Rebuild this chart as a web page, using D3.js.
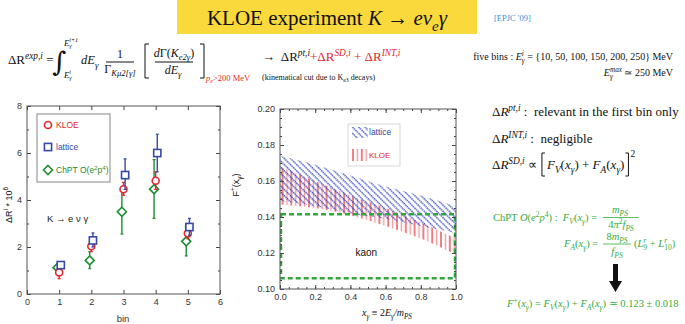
<!DOCTYPE html>
<html lang="en">
    <head>
        <meta charset="utf-8">
        <style type="text/css">
            body { margin: 0; background: #fff; }
            text { white-space: pre; }
            .tick text { font-family: "Liberation Sans", Arial, sans-serif; font-size: 9px; fill: #333; }
            .tick line { stroke: #444; }
        </style>
    </head>
    <body>
        <svg width="685" height="324"></svg>

        <script src="https://cdnjs.cloudflare.com/ajax/libs/d3/7.8.5/d3.min.js"></script>
        <script>
            // left panel: Delta R per bin (x 10^6)
            var bins = [1, 2, 3, 4, 5];
            var kloeVal = [0.92, 2.03, 4.46, 4.82, 2.58];
            var kloeLo = [0.65, 1.80, 4.20, 4.45, 2.35];
            var kloeHi = [1.10, 2.25, 4.75, 5.20, 2.80];
            var latVal = [1.23, 2.28, 5.06, 6.00, 2.85];
            var latLo = [1.15, 2.00, 4.45, 5.20, 2.50];
            var latHi = [1.30, 2.60, 5.75, 6.80, 3.22];
            var chptVal = [1.12, 1.43, 3.50, 4.46, 2.24];
            var chptLo = [1.05, 1.08, 2.55, 3.22, 1.62];
            var chptHi = [1.20, 1.80, 4.45, 5.72, 2.85];

            // middle panel: F+(x) bands
            var xg = [0.0, 0.2, 0.4, 0.6, 0.8, 1.0];
            var latUp = [0.174, 0.169, 0.163, 0.157, 0.152, 0.146];
            var latDn = [0.149, 0.146, 0.142, 0.139, 0.135, 0.131];
            var kloeUp = [0.168, 0.160, 0.152, 0.145, 0.137, 0.128];
            var kloeDn = [0.147, 0.145, 0.141, 0.135, 0.128, 0.119];
            var chptBox = [0.106, 0.1415];   // 0.123 +- 0.018

            var red = "#e4262d", blue = "#3648a6", green = "#1e8c32", lgreen = "#34ad3c";

            var svg = d3.select("svg");

            // small helper for text with italic / super / subscripts
            function rich(sel, x, y, parts, o) {
                o = o || {};
                var fs = o.size || 12;
                var t = sel.append("text").attr("x", x).attr("y", y)
                    .attr("font-family", o.font || "'Liberation Serif', 'Times New Roman', serif")
                    .attr("font-size", fs)
                    .attr("fill", o.fill || "#111")
                    .attr("text-anchor", o.anchor || "start");
                var cur = 0, prev = null, extra = 0;
                parts.forEach(function (p) {
                    if (typeof p === "string") p = {t: p};
                    var shift = 0, sc = 1;
                    if (p.sup) { shift = -0.42 * fs; sc = 0.72; }
                    if (p.sub) { shift = 0.28 * fs; sc = 0.72; }
                    var ts = t.append("tspan").text(p.t)
                        .attr("dy", shift - cur)
                        .attr("font-size", fs * sc);
                    cur = shift;
                    if (p.i) ts.attr("font-style", "italic");
                    if (p.fill) ts.attr("fill", p.fill);
                    if (extra) { ts.attr("dx", extra); extra = 0; }
                    if (p.back && prev) {
                        var w = prev.getComputedTextLength();
                        ts.attr("dx", -w);
                        var w2 = ts.node().getComputedTextLength();
                        if (w2 < w) extra = w - w2;
                    }
                    prev = ts.node();
                });
                return t;
            }

            // ---------- header ----------
            svg.append("rect").attr("x", 177).attr("y", 0).attr("width", 300).attr("height", 34)
                .attr("fill", "#f9d93b");
            rich(svg, 327, 25, ["KLOE experiment ", {t: "K", i: 1}, " \u2192 ", {t: "e\u03bd", i: 1},
                {t: "e", i: 1, sub: 1}, {t: "\u03b3", i: 1}], {size: 21, anchor: "middle"});
            rich(svg, 494, 21, ["[EPJC '09]"], {size: 8.5, fill: "#3a8fd8"});

            // formula line
            rich(svg, 8, 64, ["\u0394R", {t: "exp,i", i: 1, sup: 1}, " ="], {size: 13});
            svg.append("text").attr("x", 52).attr("y", 71).attr("font-family", "'DejaVu Serif', serif")
                .attr("font-size", 27).attr("fill", "#111").text("\u222b");
            rich(svg, 64, 46, [{t: "E", i: 1}, {t: "\u03b3", i: 1, sub: 1}, {t: "i+1", i: 1, sup: 1, back: 1}], {size: 8.5});
            rich(svg, 64, 78, [{t: "E", i: 1}, {t: "\u03b3", i: 1, sub: 1}, {t: "i", i: 1, sup: 1, back: 1}], {size: 8.5});
            rich(svg, 81, 64, [{t: "dE", i: 1}, {t: "\u03b3", i: 1, sub: 1}], {size: 12.5});
            rich(svg, 120, 58, ["1"], {size: 12, anchor: "middle"});
            svg.append("line").attr("x1", 106).attr("x2", 134).attr("y1", 62).attr("y2", 62).attr("stroke", "#111");
            rich(svg, 120, 73, ["\u0393", {t: "K\u03bc2[\u03b3]", i: 1, sub: 1}], {size: 12, anchor: "middle"});
            svg.append("path").attr("d", "M149,44H145V78H149M200,44H204V78H200")
                .attr("fill", "none").attr("stroke", "#111").attr("stroke-width", 1);
            rich(svg, 174, 57, [{t: "d", i: 1}, "\u0393(", {t: "K", i: 1}, {t: "e2\u03b3", i: 1, sub: 1}, ")"], {size: 12, anchor: "middle"});
            svg.append("line").attr("x1", 155).attr("x2", 193).attr("y1", 62).attr("y2", 62).attr("stroke", "#111");
            rich(svg, 173, 74, [{t: "dE", i: 1}, {t: "\u03b3", i: 1, sub: 1}], {size: 12, anchor: "middle"});
            rich(svg, 206, 81, [{t: "p", i: 1}, {t: "e", i: 1, sub: 1}, ">200 MeV"], {size: 8.5, fill: red});
            rich(svg, 262, 61, ["\u2192  \u0394R", {t: "pt,i", i: 1, sup: 1},
                {t: "+\u0394R", fill: red}, {t: "SD,i", i: 1, sup: 1, fill: red},
                {t: " + \u0394R", fill: red}, {t: "INT,i", i: 1, sup: 1, fill: red}], {size: 13});
            rich(svg, 262, 80, ["(kinematical cut due to K", {t: "e3", sub: 1}, " decays)"], {size: 8});
            rich(svg, 673, 60, ["five bins : ", {t: "E", i: 1}, {t: "\u03b3", i: 1, sub: 1}, {t: "i", i: 1, sup: 1, back: 1},
                " = {10, 50, 100, 150, 200, 250} MeV"], {size: 10, anchor: "end"});
            rich(svg, 673, 76, [{t: "E", i: 1}, {t: "\u03b3", i: 1, sub: 1}, {t: "max", i: 1, sup: 1, back: 1},
                " \u2243 250 MeV"], {size: 10, anchor: "end"});

            // ---------- left chart ----------
            var x1 = d3.scaleLinear().domain([0, 6]).range([27, 220]);
            var y1 = d3.scaleLinear().domain([0, 8]).range([294, 106]);
            var g1 = svg.append("g");

            function frameAxes(g, xs, ys, xMaj, xMin, yMaj, yMin, fmtX, fmtY) {
                var r = xs.range(), d = ys.range();
                g.append("g").attr("transform", "translate(0," + d[0] + ")")
                    .call(d3.axisBottom(xs).tickValues(xMaj).tickSize(-4).tickPadding(5).tickFormat(fmtX));
                g.append("g").attr("transform", "translate(0," + d[0] + ")")
                    .call(d3.axisBottom(xs).tickValues(xMin).tickSize(-2).tickFormat(""));
                g.append("g").attr("transform", "translate(0," + d[1] + ")")
                    .call(d3.axisTop(xs).tickValues(xMaj).tickSize(-4).tickFormat(""));
                g.append("g").attr("transform", "translate(0," + d[1] + ")")
                    .call(d3.axisTop(xs).tickValues(xMin).tickSize(-2).tickFormat(""));
                g.append("g").attr("transform", "translate(" + r[0] + ",0)")
                    .call(d3.axisLeft(ys).tickValues(yMaj).tickSize(-4).tickPadding(5).tickFormat(fmtY));
                g.append("g").attr("transform", "translate(" + r[0] + ",0)")
                    .call(d3.axisLeft(ys).tickValues(yMin).tickSize(-2).tickFormat(""));
                g.append("g").attr("transform", "translate(" + r[1] + ",0)")
                    .call(d3.axisRight(ys).tickValues(yMaj).tickSize(-4).tickFormat(""));
                g.append("g").attr("transform", "translate(" + r[1] + ",0)")
                    .call(d3.axisRight(ys).tickValues(yMin).tickSize(-2).tickFormat(""));
                g.selectAll(".domain").remove();
                g.append("rect").attr("x", r[0]).attr("y", d[1]).attr("width", r[1] - r[0]).attr("height", d[0] - d[1])
                    .attr("fill", "none").attr("stroke", "#555").attr("stroke-width", 1);
            }

            frameAxes(g1, x1, y1, d3.range(0, 7), [], [0, 2, 4, 6, 8], d3.range(0, 8.01, 1), d3.format("d"), d3.format("d"));

            rich(g1, 0, 0, ["\u0394R", {t: "i", sup: 1}, " * 10", {t: "6", sup: 1}],
                {size: 9, font: "'Liberation Sans', Arial, sans-serif", anchor: "middle"})
                .attr("transform", "translate(12,205) rotate(-90)");
            g1.append("text").attr("x", 123).attr("y", 322).attr("text-anchor", "middle")
                .attr("font-family", "'Liberation Sans', Arial, sans-serif").attr("font-size", 9.5)
                .attr("fill", "#333").text("bin");

            function marker(gs, px, py, col, shape) {
                var m;
                if (shape === "circle") m = gs.append("circle").attr("cx", px).attr("cy", py).attr("r", 3.5);
                else if (shape === "square") m = gs.append("rect").attr("x", px - 3.6).attr("y", py - 3.6).attr("width", 7.2).attr("height", 7.2);
                else m = gs.append("path").attr("d", "M" + px + "," + (py - 4.5) + "l4.5,4.5l-4.5,4.5l-4.5,-4.5z");
                m.attr("fill", "#fff").attr("stroke", col).attr("stroke-width", 1.6);
            }
            function series(vals, lo, hi, dx, col, shape) {
                var gs = g1.append("g");
                bins.forEach(function (b, i) {
                    var px = x1(b + dx);
                    gs.append("line").attr("x1", px).attr("x2", px)
                        .attr("y1", y1(lo[i])).attr("y2", y1(hi[i]))
                        .attr("stroke", col).attr("stroke-width", 1.4);
                    gs.append("line").attr("x1", px - 1.5).attr("x2", px + 1.5)
                        .attr("y1", y1(hi[i])).attr("y2", y1(hi[i])).attr("stroke", col).attr("stroke-width", 1.2);
                    gs.append("line").attr("x1", px - 1.5).attr("x2", px + 1.5)
                        .attr("y1", y1(lo[i])).attr("y2", y1(lo[i])).attr("stroke", col).attr("stroke-width", 1.2);
                    marker(gs, px, y1(vals[i]), col, shape);
                });
            }
            series(chptVal, chptLo, chptHi, -0.05, green, "diamond");
            series(kloeVal, kloeLo, kloeHi, 0.0, red, "circle");
            series(latVal, latLo, latHi, 0.05, blue, "square");

            // legend
            g1.append("rect").attr("x", 37).attr("y", 114).attr("width", 73).attr("height", 68)
                .attr("fill", "#fff").attr("stroke", "#999").attr("stroke-width", 1.2);
            var leg1 = [["KLOE", red, "circle", 125], ["lattice", blue, "square", 147], ["ChPT", green, "diamond", 170]];
            leg1.forEach(function (l) {
                marker(g1, 48, l[3], l[1], l[2]);
                var parts = l[0] === "ChPT" ? ["ChPT O(e", {t: "2", sup: 1}, "p", {t: "4", sup: 1}, ")"] : [l[0]];
                rich(g1, 56, l[3] + 3.2, parts, {size: 8.5, font: "'Liberation Sans', Arial, sans-serif", fill: l[1]});
            });
            g1.append("text").attr("x", 47).attr("y", 222)
                .attr("font-family", "'Liberation Sans', Arial, sans-serif").attr("font-size", 9.5)
                .attr("fill", "#222").text("K \u2192 e \u03bd \u03b3");

            // ---------- middle chart ----------
            var x2 = d3.scaleLinear().domain([0, 1]).range([280, 456]);
            var y2 = d3.scaleLinear().domain([0.10, 0.20]).range([289, 109]);
            var g2 = svg.append("g");

            var defs = svg.append("defs");
            var pb = defs.append("pattern").attr("id", "hatchBlue").attr("patternUnits", "userSpaceOnUse")
                .attr("width", 4.4).attr("height", 4.4).attr("patternTransform", "rotate(-45)");
            pb.append("line").attr("x1", 1).attr("x2", 1).attr("y1", 0).attr("y2", 4.4)
                .attr("stroke", "#2438bc").attr("stroke-width", 1.2).attr("stroke-dasharray", "1.6,0.6");
            var pr = defs.append("pattern").attr("id", "hatchRed").attr("patternUnits", "userSpaceOnUse")
                .attr("width", 8.8).attr("height", 10);
            pr.append("line").attr("x1", 1).attr("x2", 1).attr("y1", 0).attr("y2", 10)
                .attr("stroke", "#e52a33").attr("stroke-width", 1.2);
            pr.append("line").attr("x1", 5.4).attr("x2", 5.4).attr("y1", 0).attr("y2", 10)
                .attr("stroke", "#f39aa2").attr("stroke-width", 1.4);
            defs.append("clipPath").attr("id", "clipMid").append("rect")
                .attr("x", 280).attr("y", 109).attr("width", 176).attr("height", 180);

            function band(up, dn) {
                return d3.area().curve(d3.curveMonotoneX)
                    .x(function (d, i) { return x2(xg[i]); })
                    .y0(function (d, i) { return y2(dn[i]); })
                    .y1(function (d, i) { return y2(up[i]); })(xg);
            }
            var bands = g2.append("g").attr("clip-path", "url(#clipMid)");
            bands.append("path").attr("d", band(kloeUp, kloeDn)).attr("fill", "url(#hatchRed)");
            bands.append("path").attr("d", band(latUp, latDn)).attr("fill", "url(#hatchBlue)");

            bands.append("rect").attr("x", x2(0.006)).attr("y", y2(chptBox[1]))
                .attr("width", x2(0.994) - x2(0.006)).attr("height", y2(chptBox[0]) - y2(chptBox[1]))
                .attr("fill", "none").attr("stroke", "#2ea83a").attr("stroke-width", 2.4)
                .attr("stroke-dasharray", "5,3");

            frameAxes(g2, x2, y2, d3.range(0, 1.01, 0.2), d3.range(0, 1.01, 0.05),
                d3.range(0.10, 0.201, 0.02), d3.range(0.10, 0.201, 0.005), d3.format(".1f"), d3.format(".2f"));

            g2.append("text").attr("x", x2(0.49)).attr("y", y2(0.1205) + 4).attr("text-anchor", "middle")
                .attr("font-family", "'Liberation Sans', Arial, sans-serif").attr("font-size", 10)
                .attr("fill", "#111").text("kaon");

            // legend
            g2.append("rect").attr("x", 348).attr("y", 124).attr("width", 52).attr("height", 42)
                .attr("fill", "#fff").attr("stroke", "#ccc").attr("stroke-width", 0.8);
            g2.append("rect").attr("x", 352).attr("y", 127).attr("width", 16).attr("height", 11).attr("fill", "url(#hatchBlue)");
            g2.append("rect").attr("x", 352).attr("y", 149).attr("width", 16).attr("height", 12).attr("fill", "url(#hatchRed)");
            g2.append("text").attr("x", 369).attr("y", 135).attr("font-family", "'Liberation Sans', Arial, sans-serif")
                .attr("font-size", 8.5).attr("fill", blue).text("lattice");
            g2.append("text").attr("x", 369).attr("y", 158).attr("font-family", "'Liberation Sans', Arial, sans-serif")
                .attr("font-size", 8).attr("fill", red).text("KLOE");

            rich(g2, 0, 0, ["F", {t: "+", sup: 1}, "(x", {t: "\u03b3", sub: 1}, ")"],
                {size: 9, font: "'Liberation Sans', Arial, sans-serif", anchor: "middle"})
                .attr("transform", "translate(239,185) rotate(-90)");
            rich(g2, 387, 316, [{t: "x", i: 1}, {t: "\u03b3", i: 1, sub: 1}, " \u2261 2", {t: "E", i: 1}, {t: "\u03b3", i: 1, sub: 1},
                {t: "/m", i: 1}, {t: "PS", i: 1, sub: 1}], {size: 10, anchor: "middle"});

            // ---------- right text panel ----------
            var g3 = svg.append("g");
            rich(g3, 492, 116, ["\u0394", {t: "R", i: 1}, {t: "pt,i", i: 1, sup: 1}, " :  relevant in the first bin only"], {size: 13});
            rich(g3, 492, 143, ["\u0394", {t: "R", i: 1}, {t: "INT,i", i: 1, sup: 1}, " :  negligible"], {size: 13});
            var sd = rich(g3, 492, 169, ["\u0394", {t: "R", i: 1}, {t: "SD,i", i: 1, sup: 1}, " \u221d"], {size: 13});
            var bx = 492 + sd.node().getComputedTextLength() + 5;
            var inner = rich(g3, bx + 5, 169, [{t: "F", i: 1}, {t: "V", i: 1, sub: 1}, "(", {t: "x", i: 1}, {t: "\u03b3", i: 1, sub: 1}, ") + ",
                {t: "F", i: 1}, {t: "A", i: 1, sub: 1}, "(", {t: "x", i: 1}, {t: "\u03b3", i: 1, sub: 1}, ")"], {size: 13});
            var ex = bx + 5 + inner.node().getComputedTextLength() + 4;
            g3.append("path").attr("d", "M" + (bx + 3) + ",153H" + bx + "V176H" + (bx + 3) +
                    "M" + (ex - 3) + ",153H" + ex + "V176H" + (ex - 3))
                .attr("fill", "none").attr("stroke", "#111").attr("stroke-width", 1);
            rich(g3, ex + 2, 157, ["2"], {size: 9.5});

            rich(g3, 493, 221, ["ChPT ", {t: "O", i: 1}, "(", {t: "e", i: 1}, {t: "2", sup: 1}, {t: "p", i: 1}, {t: "4", sup: 1}, ") :  ",
                {t: "F", i: 1}, {t: "V", i: 1, sub: 1}, "(", {t: "x", i: 1}, {t: "\u03b3", i: 1, sub: 1}, ") ="], {size: 10.5, fill: lgreen});
            rich(g3, 620, 213, [{t: "m", i: 1}, {t: "PS", i: 1, sub: 1}], {size: 10.5, fill: lgreen, anchor: "middle"});
            g3.append("line").attr("x1", 603).attr("x2", 639).attr("y1", 217.5).attr("y2", 217.5).attr("stroke", lgreen).attr("stroke-width", 0.8);
            rich(g3, 621, 228, ["4", {t: "\u03c0", i: 1}, {t: "2", sup: 1}, {t: "f", i: 1}, {t: "PS", i: 1, sub: 1}], {size: 10.5, fill: lgreen, anchor: "middle"});

            rich(g3, 564, 247, [{t: "F", i: 1}, {t: "A", i: 1, sub: 1}, "(", {t: "x", i: 1}, {t: "\u03b3", i: 1, sub: 1}, ") ="], {size: 10.5, fill: lgreen});
            rich(g3, 617, 240, ["8", {t: "m", i: 1}, {t: "PS", i: 1, sub: 1}], {size: 10.5, fill: lgreen, anchor: "middle"});
            g3.append("line").attr("x1", 603).attr("x2", 631).attr("y1", 244).attr("y2", 244).attr("stroke", lgreen).attr("stroke-width", 0.8);
            rich(g3, 617, 255, [{t: "f", i: 1}, {t: "PS", i: 1, sub: 1}], {size: 10.5, fill: lgreen, anchor: "middle"});
            rich(g3, 634, 247, ["(", {t: "L", i: 1}, {t: "9", sub: 1}, {t: "r", i: 1, sup: 1, back: 1}, " + ",
                {t: "L", i: 1}, {t: "10", sub: 1}, {t: "r", i: 1, sup: 1, back: 1}, ")"], {size: 10.5, fill: lgreen});

            g3.append("path").attr("d", "M613,264H618V281H622L615.5,292L609,281H613Z").attr("fill", "#111");

            rich(g3, 507, 307, [{t: "F", i: 1}, {t: "+", sup: 1}, "(", {t: "x", i: 1}, {t: "\u03b3", i: 1, sub: 1}, ") = ",
                {t: "F", i: 1}, {t: "V", i: 1, sub: 1}, "(", {t: "x", i: 1}, {t: "\u03b3", i: 1, sub: 1}, ") + ",
                {t: "F", i: 1}, {t: "A", i: 1, sub: 1}, "(", {t: "x", i: 1}, {t: "\u03b3", i: 1, sub: 1}, ") \u2243 0.123 \u00b1 0.018"],
                {size: 10.5, fill: lgreen});
        </script>
    </body>
</html>
